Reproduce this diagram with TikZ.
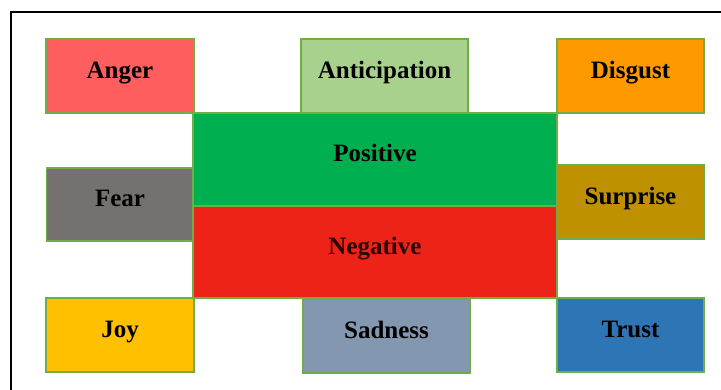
\documentclass[tikz,border=0pt]{standalone}
\usepackage{fontspec}
\setmainfont{Liberation Serif}
\definecolor{bordergreen}{HTML}{70AD47}
\definecolor{cAnger}{HTML}{FF5E5E}
\definecolor{cAntic}{HTML}{A9D18E}
\definecolor{cDisgust}{HTML}{FF9900}
\definecolor{cFear}{HTML}{767171}
\definecolor{cSurprise}{HTML}{BF9000}
\definecolor{cJoy}{HTML}{FFC000}
\definecolor{cSad}{HTML}{8497B0}
\definecolor{cTrust}{HTML}{2E75B6}
\definecolor{cPos}{HTML}{00B050}
\definecolor{cNeg}{HTML}{EC2316}
\definecolor{negtext}{HTML}{2A0804}
\begin{document}
\begin{tikzpicture}[x=1pt,y=-1pt,
  emo/.style={draw=bordergreen, line width=1.5pt, inner sep=0pt, outer sep=0pt,
    rectangle, text height=14pt, text depth=9pt,
    font=\bfseries\fontsize{25}{25}\selectfont}]
\useasboundingbox (0,0) rectangle (721,390);
\fill[white] (0,0) rectangle (721,390);
% partial frame
\draw[line width=1.7pt, black] (11,390) -- (11,12) -- (721,12);
% emotion boxes
\node[emo, fill=cAnger, minimum width=148pt, minimum height=74pt] (anger) at (120,76) {Anger};
\node[emo, fill=cAntic, minimum width=167pt, minimum height=74pt] (antic) at (384.5,76) {Anticipation};
\node[emo, fill=cDisgust, minimum width=147pt, minimum height=74pt] (disgust) at (630.5,76) {Disgust};
\node[emo, fill=cFear, minimum width=147pt, minimum height=73pt] (fear) at (120,204.5) {Fear};
\node[emo, fill=cSurprise, minimum width=147pt, minimum height=74pt] (surprise) at (630.5,202) {Surprise};
\node[emo, fill=cJoy, minimum width=148pt, minimum height=74pt] (joy) at (120,335) {Joy};
\node[emo, fill=cSad, minimum width=167pt, minimum height=74pt] (sad) at (386.5,336) {Sadness};
\node[emo, fill=cTrust, minimum width=147pt, minimum height=74pt] (trust) at (630.5,335) {Trust};
% central boxes
\node[emo, fill=cPos, minimum width=364pt, minimum height=93pt] (pos) at (375,159.5) {Positive};
\node[emo, fill=cNeg, text=negtext, minimum width=364pt, minimum height=92pt] (neg) at (375,252) {Negative};
\end{tikzpicture}
\end{document}
